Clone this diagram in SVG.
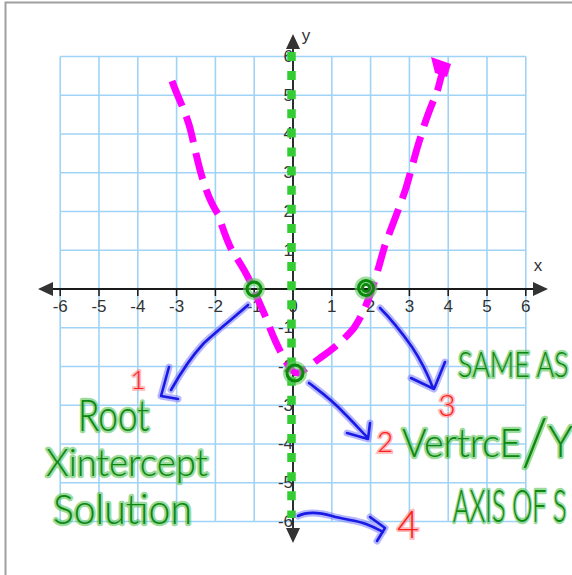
<svg xmlns="http://www.w3.org/2000/svg" width="572" height="575" viewBox="0 0 572 575">
<style>
.grid line{stroke:#9fd4f6;stroke-width:1.6}
.axis{stroke:#1a1a1a;stroke-width:1.8;fill:none}
.tick{stroke:#1a1a1a;stroke-width:1.5}
.ah{fill:#333}
.lbl{font-family:"Liberation Sans",Arial,sans-serif;font-size:17px;fill:#333}
.curve{fill:none;stroke:#ff00ff;stroke-width:7;stroke-dasharray:27 11}
.sym{fill:none;stroke:#33cc33;stroke-width:8.5;stroke-dasharray:9 10.1}
.ring{fill:none;stroke:#0a8a0a;stroke-width:3}
.ringh{fill:none;stroke:#5fc85f;stroke-width:8;stroke-opacity:.6}
.bh{fill:none;stroke:#7a7aff;stroke-width:7;stroke-opacity:.55;stroke-linecap:round;stroke-linejoin:round}
.bi{fill:none;stroke:#1a1ae6;stroke-width:2.6;stroke-linecap:round;stroke-linejoin:round}
.hw{font-family:Lato,"Open Sans","Liberation Sans",sans-serif;font-weight:300;fill:#0e870e;stroke:#58c458;stroke-opacity:.6;stroke-width:4.5;paint-order:stroke;stroke-linejoin:round}
.num{font-family:Lato,"Liberation Sans",sans-serif;font-weight:300;fill:#ff1f1f;stroke:#ff8a8a;stroke-opacity:.6;stroke-width:3.5;paint-order:stroke}
</style>
<rect x="5.5" y="2.5" width="600" height="600" fill="#fff" stroke="#a0a0a0" stroke-width="2"/>
<g id="grid" class="grid">
<line x1="60.2" y1="56.5" x2="60.2" y2="521.5"/><line x1="99" y1="56.5" x2="99" y2="521.5"/><line x1="137.8" y1="56.5" x2="137.8" y2="521.5"/><line x1="176.6" y1="56.5" x2="176.6" y2="521.5"/><line x1="215.4" y1="56.5" x2="215.4" y2="521.5"/><line x1="254.2" y1="56.5" x2="254.2" y2="521.5"/><line x1="293" y1="56.5" x2="293" y2="521.5"/><line x1="331.8" y1="56.5" x2="331.8" y2="521.5"/><line x1="370.6" y1="56.5" x2="370.6" y2="521.5"/><line x1="409.4" y1="56.5" x2="409.4" y2="521.5"/><line x1="448.2" y1="56.5" x2="448.2" y2="521.5"/><line x1="487" y1="56.5" x2="487" y2="521.5"/><line x1="525.8" y1="56.5" x2="525.8" y2="521.5"/>
<line x1="60.2" y1="56.5" x2="525.8" y2="56.5"/><line x1="60.2" y1="95.25" x2="525.8" y2="95.25"/><line x1="60.2" y1="134" x2="525.8" y2="134"/><line x1="60.2" y1="172.75" x2="525.8" y2="172.75"/><line x1="60.2" y1="211.5" x2="525.8" y2="211.5"/><line x1="60.2" y1="250.25" x2="525.8" y2="250.25"/><line x1="60.2" y1="289" x2="525.8" y2="289"/><line x1="60.2" y1="327.75" x2="525.8" y2="327.75"/><line x1="60.2" y1="366.5" x2="525.8" y2="366.5"/><line x1="60.2" y1="405.25" x2="525.8" y2="405.25"/><line x1="60.2" y1="444" x2="525.8" y2="444"/><line x1="60.2" y1="482.75" x2="525.8" y2="482.75"/><line x1="60.2" y1="521.5" x2="525.8" y2="521.5"/>
</g>
<g id="ylabels" class="lbl" text-anchor="end">
<text x="293" y="62">6</text><text x="293" y="100.5">5</text><text x="293" y="139">4</text><text x="293" y="178">3</text><text x="293" y="217">2</text><text x="293" y="255.5">1</text><text x="293" y="333">-1</text><text x="293" y="372">-2</text><text x="293" y="410.5">-3</text><text x="293" y="449">-4</text><text x="293" y="488">-5</text><text x="293" y="527">-6</text>
</g>
<g id="axes">
<line class="axis" x1="50" y1="289" x2="536" y2="289"/>
<line class="axis" x1="293" y1="46" x2="293" y2="530"/>
<polygon class="ah" points="38,289 53,282 53,296"/>
<polygon class="ah" points="548,289 533,282 533,296"/>
<polygon class="ah" points="293,34 286,49 300,49"/>
<polygon class="ah" points="293,543 286,528 300,528"/>
<g class="tick"><line x1="60.2" y1="289" x2="60.2" y2="296"/><line x1="99" y1="289" x2="99" y2="296"/><line x1="137.8" y1="289" x2="137.8" y2="296"/><line x1="176.6" y1="289" x2="176.6" y2="296"/><line x1="215.4" y1="289" x2="215.4" y2="296"/><line x1="254.2" y1="289" x2="254.2" y2="296"/><line x1="331.8" y1="289" x2="331.8" y2="296"/><line x1="370.6" y1="289" x2="370.6" y2="296"/><line x1="409.4" y1="289" x2="409.4" y2="296"/><line x1="448.2" y1="289" x2="448.2" y2="296"/><line x1="487" y1="289" x2="487" y2="296"/><line x1="525.8" y1="289" x2="525.8" y2="296"/></g>
<g class="lbl" text-anchor="middle">
<text x="60.2" y="312">-6</text><text x="99" y="312">-5</text><text x="137.8" y="312">-4</text><text x="176.6" y="312">-3</text><text x="215.4" y="312">-2</text><text x="254.2" y="312">-1</text><text x="293" y="312">0</text><text x="331.8" y="312">1</text><text x="370.6" y="312">2</text><text x="409.4" y="312">3</text><text x="448.2" y="312">4</text><text x="487" y="312">5</text><text x="525.8" y="312">6</text>
</g>
<text class="lbl" x="538" y="271" text-anchor="middle">x</text>
<text class="lbl" x="306" y="41" text-anchor="middle">y</text>
</g>
<g id="parabola">
<path class="curve" d="M172,81 C178,98 185,110 190,128 C195,148 198,165 203,180 C208,196 212,205 218,214 C224,232 228,244 234,254 C242,266 248,276 253,288 C258,300 262,308 266,318 C272,334 278,348 284,358 C290,370 294,374 299,373 C306,369 312,364 320,358 C332,350 344,340 354,328 C362,316 366,306 371,292 C376,278 380,262 385,245 C392,226 400,206 406,188 C412,168 416,150 421,136 C426,118 432,104 437,92 C439,86 440,80 442,74"/>
<polygon fill="#ff00ff" points="431,57 451,64 447,77 435,73"/>
</g>
<g id="symmetry">
<line class="sym" x1="291.5" y1="52" x2="291.5" y2="518"/>
</g>
<g id="points">
<g id="root1"><circle class="ringh" cx="254" cy="289" r="7"/><circle class="ring" cx="254" cy="289" r="7"/></g>
<g id="root2"><circle class="ringh" cx="366" cy="288" r="7.5"/><circle class="ring" cx="366" cy="288" r="7.5"/><circle class="ring" cx="366" cy="288" r="3.5" stroke-width="2"/></g>
<g id="vertex"><circle class="ringh" cx="295" cy="373" r="8"/><circle class="ring" cx="295" cy="373" r="8"/></g>
</g>
<g id="connectors">
<g id="a1"><path class="bh" d="M248,305 C236,316 220,328 204,343 C190,358 180,374 171,390 M169,367 L161,396 L178,399"/><path class="bi" d="M248,305 C236,316 220,328 204,343 C190,358 180,374 171,390 M169,367 L161,396 L178,399"/></g>
<g id="a2"><path class="bh" d="M309,383 C318,390 330,398 345,414 C355,424 361,431 367,437 M347,433 L368,439 L370,423"/><path class="bi" d="M309,383 C318,390 330,398 345,414 C355,424 361,431 367,437 M347,433 L368,439 L370,423"/></g>
<g id="a3"><path class="bh" d="M380,308 C390,318 400,330 412,347 C422,362 428,375 433,388 M411,378 L434,389 L445,362"/><path class="bi" d="M380,308 C390,318 400,330 412,347 C422,362 428,375 433,388 M411,378 L434,389 L445,362"/></g>
<g id="a4"><path class="bh" d="M298,516 C306,512 318,512 332,516 C346,520 356,520 366,524 C374,527 379,530 383,532 M370,517 L385,528 L377,541"/><path class="bi" d="M298,516 C306,512 318,512 332,516 C346,520 356,520 366,524 C374,527 379,530 383,532 M370,517 L385,528 L377,541"/></g>
</g>
<g id="notes">
<g id="n1"><text class="num" x="138" y="389" font-size="26" text-anchor="middle">1</text>
<text class="hw" transform="matrix(0.8 0 0 1 78 431)" x="0" y="0" font-size="44">Root</text>
<text class="hw" x="46" y="476" font-size="37" textLength="162" lengthAdjust="spacingAndGlyphs">Xintercept</text>
<text class="hw" x="53" y="524" font-size="42" textLength="139" lengthAdjust="spacingAndGlyphs">Solution</text></g>
<g id="n2"><text class="num" x="385" y="452" font-size="28" text-anchor="middle">2</text>
<text class="hw" transform="matrix(0.94 0 0 1 402 457)" x="0" y="0" font-size="40">VertrcE<tspan font-size="66" dy="8">/</tspan><tspan font-size="44" dy="-8">Y</tspan></text></g>
<g id="n3"><text class="num" x="447" y="416" font-size="30" text-anchor="middle">3</text>
<text class="hw" transform="matrix(0.75 0 0 1 458 377)" x="0" y="0" font-size="36">SAME AS</text></g>
<g id="n4"><text class="num" x="408" y="538" font-size="38" text-anchor="middle">4</text>
<text class="hw" transform="matrix(0.55 0 0 1 453 522)" x="0" y="0" font-size="46">AXIS OF S</text></g>
</g>
</svg>
